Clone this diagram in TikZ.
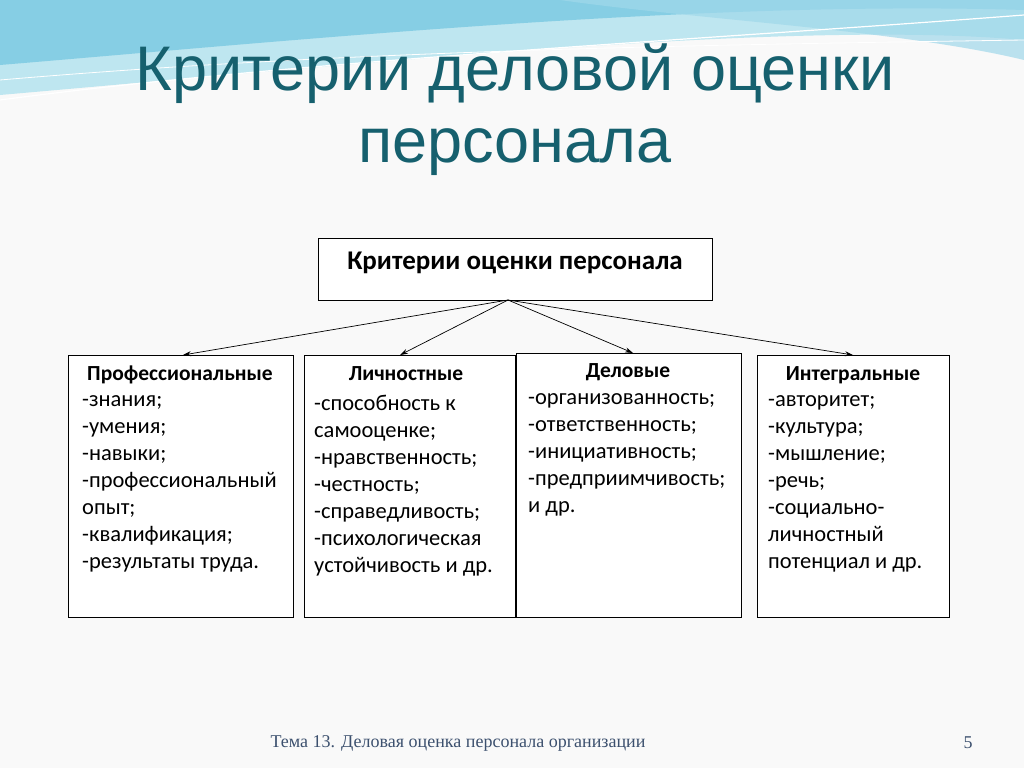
\documentclass[tikz,border=0pt]{standalone}
\usepackage{fontspec}
\setmainfont{Carlito}
\newfontfamily\footfont{Liberation Serif}
\newfontfamily\titfont{Liberation Sans}
\usetikzlibrary{arrows.meta}
\definecolor{titlec}{RGB}{22,96,110}
\definecolor{footc}{RGB}{60,80,110}
\definecolor{wave1}{RGB}{120,200,225}
\definecolor{wave2}{RGB}{190,230,240}
\begin{document}
\begin{tikzpicture}[x=1pt,y=-1pt,
  box/.style={draw=black,line width=0.8pt,fill=white},
  arr/.style={-{Stealth[length=8pt,width=5pt]},line width=0.7pt},
  lst/.style={anchor=north west,align=left,font=\fontsize{22.5}{27}\selectfont,inner sep=0pt},
  hd/.style={anchor=north,font=\bfseries\fontsize{21.5}{24}\selectfont,inner sep=0pt}]
\useasboundingbox (0,0) rectangle (1024,768);
\fill[white!95!gray] (0,0) rectangle (1024,768);
% waves
\fill[wave2] (0,0) -- (1024,0) -- (1024,40) .. controls (800,20) and (400,60) .. (0,95) -- cycle;
\fill[wave1,opacity=0.8] (0,0) -- (1024,0) -- (1024,10) .. controls (700,0) and (300,40) .. (0,65) -- cycle;
\fill[wave1!70!white,opacity=0.7] (560,0) -- (1024,0) -- (1024,60) .. controls (900,30) and (700,20) .. (560,0) -- cycle;
\draw[white,line width=1.2pt] (0,100) .. controls (300,60) and (700,40) .. (1024,15);
\draw[white,line width=0.8pt] (0,80) .. controls (350,50) and (700,45) .. (1024,40);
% title
\node[text=titlec,font=\titfont\fontsize{63}{72}\selectfont,align=center] (title) at (515,110) {Критерии деловой оценки\\персонала};
% top box
\node[box,minimum width=394pt,minimum height=62pt] (top) at (515,269) {};
\node[font=\bfseries\fontsize{27}{30}\selectfont] at (515,263) {Критерии оценки персонала};
\coordinate (s) at (508,300);
% boxes
\node[box,anchor=north west,minimum width=225pt,minimum height=262pt] (b1) at (68,355) {};
\node[box,anchor=north west,minimum width=211pt,minimum height=262pt] (b2) at (304,355) {};
\node[box,anchor=north west,minimum width=225pt,minimum height=264pt] (b3) at (516,353) {};
\node[box,anchor=north west,minimum width=192pt,minimum height=262pt] (b4) at (757,355) {};
\draw[arr] (s) -- (183,355);
\draw[arr] (s) -- (400,355);
\draw[arr] (s) -- (633,353);
\draw[arr] (s) -- (853,355);
\node[hd] at (180,366) {Профессиональные};
\node[hd] at (406,366) {Личностные};
\node[hd] at (628,363) {Деловые};
\node[hd] at (853,366) {Интегральные};
\node[lst] at (82,395) {-знания;\\-умения;\\-навыки;\\-профессиональный\\опыт;\\-квалификация;\\-результаты труда.};
\node[lst] at (314,395) {-способность к\\самооценке;\\-нравственность;\\-честность;\\-справедливость;\\-психологическая\\устойчивость и др.};
\node[lst] at (528,393) {-организованность;\\-ответственность;\\-инициативность;\\-предприимчивость;\\и др.};
\node[lst] at (768,395) {-авторитет;\\-культура;\\-мышление;\\-речь;\\-социально-\\личностный\\потенциал и др.};
% footer
\node[text=footc,font=\footfont\fontsize{18}{20}\selectfont] (foot) at (458,743) {Тема 13. Деловая оценка персонала организации};
\node[text=footc,font=\footfont\fontsize{18}{20}\selectfont] (pg) at (968,743) {5};
\end{tikzpicture}
\end{document}
